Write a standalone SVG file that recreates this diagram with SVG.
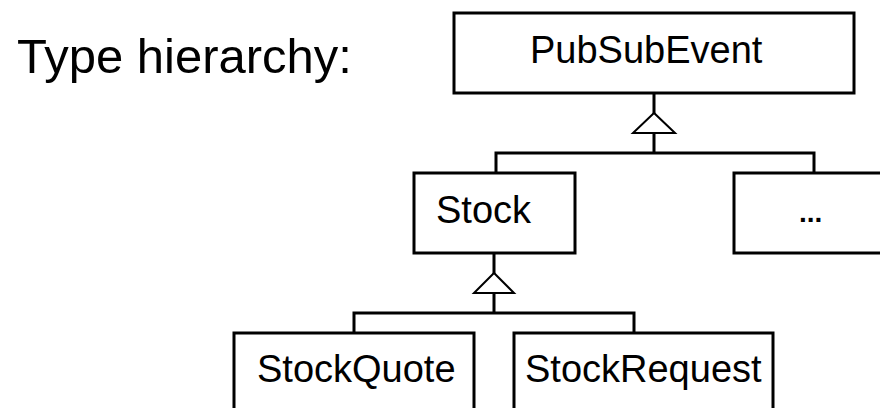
<svg xmlns="http://www.w3.org/2000/svg" width="880" height="408" viewBox="0 0 880 408">
<style>
.box{fill:#fff;stroke:#000;stroke-width:3}
.t{font-family:"Liberation Sans",Arial,sans-serif;font-size:38px;fill:#000}
.line{fill:none;stroke:#000;stroke-width:3}
.tri{fill:#fff;stroke:#000;stroke-width:2}
</style>
<rect width="880" height="408" fill="#fff"/>
<text class="t" x="17" y="73" style="font-size:49px">Type hierarchy:</text>
<g id="connectors">
<path class="line" d="M654 93V153M496 173V153H814V173"/>
<polygon class="tri" points="654,113 633,133 675,133"/>
<path class="line" d="M494 253V313M354 333V313H634V333"/>
<polygon class="tri" points="494,273 474,293 514,293"/>
</g>
<g id="PubSubEvent">
<rect class="box" x="454" y="13" width="400" height="80"/>
<text class="t" x="530" y="63">PubSubEvent</text>
</g>
<g id="Stock">
<rect class="box" x="414" y="173" width="161" height="80"/>
<text class="t" x="436" y="223">Stock</text>
</g>
<g id="More">
<rect class="box" x="734" y="173" width="160" height="80"/>
<text class="t" x="799" y="222" style="font-size:28px;font-weight:bold">...</text>
</g>
<g id="StockQuote">
<rect class="box" x="234" y="333" width="240" height="90"/>
<text class="t" x="257" y="382">StockQuote</text>
</g>
<g id="StockRequest">
<rect class="box" x="514" y="333" width="259" height="90"/>
<text class="t" x="525" y="382">StockRequest</text>
</g>
</svg>
